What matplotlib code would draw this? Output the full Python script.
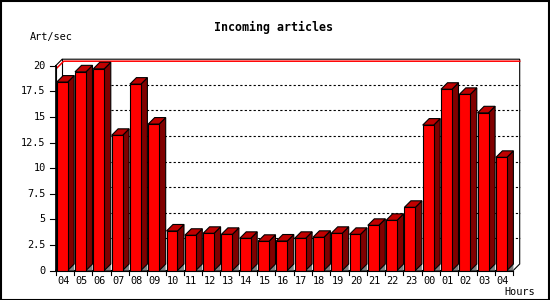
import matplotlib
matplotlib.use("Agg")
import matplotlib.pyplot as plt
from matplotlib.patches import Polygon
from matplotlib.transforms import offset_copy

hours = ["04", "05", "06", "07", "08", "09", "10", "11", "12", "13", "14", "15", "16",
         "17", "18", "19", "20", "21", "22", "23", "00", "01", "02", "03", "04"]
values = [18.4, 19.4, 19.7, 13.2, 18.2, 14.3, 3.86, 3.44, 3.63, 3.53, 3.14, 2.85, 2.88,
          3.14, 3.24, 3.63, 3.53, 4.41, 4.9, 6.17, 14.2, 17.7, 17.2, 15.4, 11.05]
yticks = [0, 2.5, 5, 7.5, 10, 12.5, 15, 17.5, 20]
ytick_labels = ["0", "2.5", "5", "7.5", "10", "12.5", "15", "17.5", "20"]
title = "Incoming articles"
ylabel = "Art/sec"
xlabel = "Hours"

W, H = 550, 300
fig = plt.figure(figsize=(W / 100, H / 100), dpi=100)
fig.patch.set_facecolor("white")

n = len(values)
ymax = 20.0
slot_px = 18.3
unit_px = 10.24
depth_px = 6.5
dx = depth_px / slot_px
dy = depth_px / unit_px

left_px, bottom_px = 55.7, 270.5
ax_w = (n + dx) * slot_px
ax_h = (ymax + dy) * unit_px
ax = fig.add_axes([left_px / W, (H - bottom_px) / H, ax_w / W, ax_h / H])
ax.set_xlim(0, n + dx)
ax.set_ylim(0, ymax + dy)
ax.axis("off")

lw = 0.8
# back wall dotted gridlines
for v in yticks[1:-1]:
    ax.plot([dx, n + dx], [v + dy, v + dy], color="black", lw=0.8,
            linestyle=(0, (2, 2)), zorder=1, clip_on=False)

# frame: back wall
ax.plot([0, dx, n + dx, n + dx, n, 0, 0],
        [ymax, ymax + dy, ymax + dy, dy, 0, 0, ymax],
        color="black", lw=lw, zorder=1, clip_on=False, solid_joinstyle="miter")
ax.plot([dx, dx], [dy, ymax + dy], color="black", lw=lw, zorder=1, clip_on=False)
ax.plot([0, dx], [0, dy], color="black", lw=lw, zorder=1, clip_on=False)
# red max line
red_tr = offset_copy(ax.transData, fig=fig, x=1.5, y=-2, units="dots")
ax.plot([0, dx, n + dx - 1.5 / slot_px], [ymax, ymax + dy, ymax + dy],
        color="red", lw=1.1, zorder=1.5, transform=red_tr, clip_on=False)

bw = 0.6
off = 0.055
for i, v in enumerate(values):
    x0 = i + off
    x1 = x0 + bw
    # floor shadow
    ax.add_patch(Polygon([(x1, 0), (x1 + dx, dy), (x1 + dx, 0)], closed=True,
                         facecolor="#808080", edgecolor="none", zorder=2))
    # side
    ax.add_patch(Polygon([(x1, 0), (x1 + dx, dy), (x1 + dx, v + dy), (x1, v)], closed=True,
                         facecolor="#800000", edgecolor="black", lw=lw, zorder=3,
                         joinstyle="miter"))
    # top
    ax.add_patch(Polygon([(x0, v), (x1, v), (x1 + dx, v + dy), (x0 + dx, v + dy)], closed=True,
                         facecolor="#c00000", edgecolor="black", lw=lw, zorder=3,
                         joinstyle="miter"))
ax.bar([i + off for i in range(n)], values, width=bw, align="edge",
       color="#ff0000", edgecolor="black", linewidth=lw, zorder=4)

# front axes lines (drawn on top)
ax.plot([0, 0], [0, ymax], color="black", lw=lw, zorder=5, clip_on=False)
ax.plot([0, n], [0, 0], color="black", lw=lw, zorder=5, clip_on=False)

font = "DejaVu Sans Mono"
fs = 7.4
# y ticks
lab_tr = offset_copy(ax.transData, fig=fig, x=-10, y=0, units="dots")
for v, lab in zip(yticks, ytick_labels):
    ax.plot([-6 / slot_px, 0], [v, v], color="black", lw=lw, zorder=5, clip_on=False)
    ax.text(0, v, lab, transform=lab_tr, ha="right", va="center",
            fontsize=fs, family=font, color="black")

# x ticks
for i in range(n + 1):
    ax.plot([i, i], [0, -4 / unit_px], color="black", lw=lw, zorder=5, clip_on=False)
xl_tr = offset_copy(ax.transData, fig=fig, x=0, y=-11, units="dots")
for i, lab in enumerate(hours):
    ax.text(i + 0.41, 0, lab, transform=xl_tr, ha="center", va="center",
            fontsize=fs, family=font, color="black")

fig.text(274 / W, 1 - 27 / H, title, ha="center", va="center", fontsize=8.4,
         family=font, weight="bold", color="black")
fig.text(30 / W, 1 - 37 / H, ylabel, ha="left", va="center", fontsize=fs,
         family=font, color="black")
fig.text(519.5 / W, 1 - 292 / H, xlabel, ha="center", va="center", fontsize=fs,
         family=font, color="black")

# outer border
fig.add_artist(plt.Rectangle((0.5 / W, 0.5 / H), (W - 1.5) / W, (H - 1.5) / H,
                             transform=fig.transFigure, fill=False,
                             edgecolor="black", lw=1.5))

fig.savefig("out.png", dpi=100, facecolor="white")
